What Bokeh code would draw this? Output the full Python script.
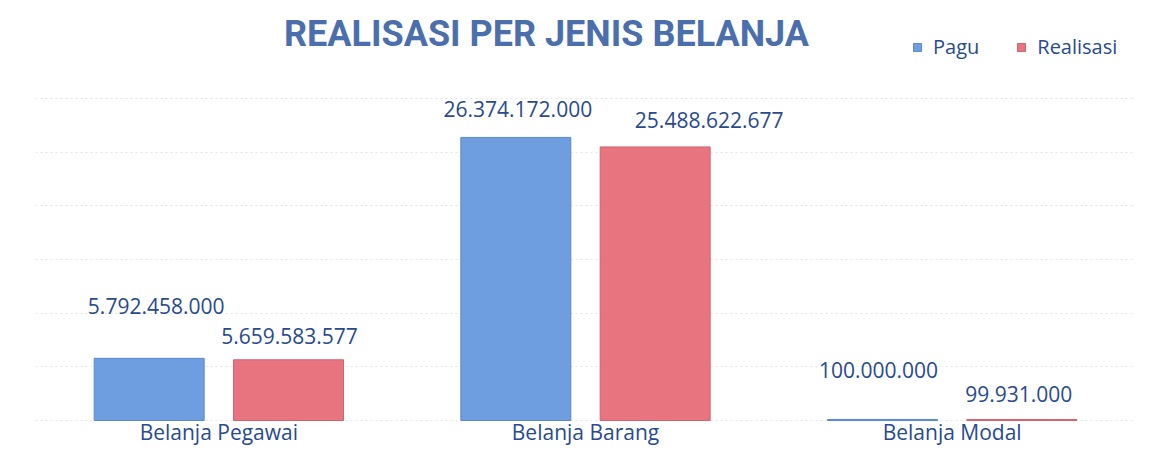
from bokeh.plotting import figure
from bokeh.models import (FactorRange, Range1d, FixedTicker, ColumnDataSource,
                          Label, Legend, LegendItem)
from bokeh.transform import dodge
from bokeh.core.properties import value
from bokeh.embed import file_html
from bokeh.resources import INLINE

# ---- data ----
categories = ["Belanja Pegawai", "Belanja Barang", "Belanja Modal"]
pagu = [5792458000, 26374172000, 100000000]
realisasi = [5659583577, 25488622677, 99931000]
grid_ticks = [0, 5e9, 10e9, 15e9, 20e9, 25e9, 30e9]
title_text = "REALISASI PER JENIS BELANJA"
series_names = ["Pagu", "Realisasi"]

def fmt(v):
    return "{:,}".format(int(v)).replace(",", ".")

# ---- styles ----
BLUE = "#6e9de0"
BLUE_EDGE = "#5c89cc"
RED = "#e8747f"
RED_EDGE = "#cf6470"
TEXT = "#284a8e"
FONT = "Open Sans"
pagu_dx = [7, 2, -4]
pagu_dy = [-52, -28, -49]
real_dx = [1, 54, -3]
real_dy = [-24, -27, -25]
cat_dy = [11, 11, 11]

src = ColumnDataSource(dict(
    cat=categories, pagu=pagu, realisasi=realisasi,
    pagu_lbl=[fmt(v) for v in pagu], real_lbl=[fmt(v) for v in realisasi],
    pdx=pagu_dx, pdy=pagu_dy, rdx=real_dx, rdy=real_dy,
    zero=[0] * len(categories), cdy=cat_dy,
))

p = figure(width=1140, height=449, output_backend="svg", toolbar_location=None,
           x_range=FactorRange(*categories, range_padding=0),
           y_range=Range1d(-2.70e9, 39.13e9),
           min_border_left=35, min_border_right=5, min_border_top=0,
           min_border_bottom=0)
p.outline_line_color = None
p.background_fill_color = "white"
p.border_fill_color = "white"

# grid
p.yaxis.visible = False
p.xaxis.visible = False
p.ygrid.ticker = FixedTicker(ticks=grid_ticks)
p.ygrid.grid_line_color = "#e4e4e4"
p.ygrid.grid_line_dash = "2 3"
p.xgrid.grid_line_color = None

r1 = p.vbar(x=dodge("cat", -0.19, range=p.x_range), top="pagu", width=0.30,
            source=src, fill_color=BLUE, line_color=BLUE_EDGE, line_width=1)
r2 = p.vbar(x=dodge("cat", 0.19, range=p.x_range), top="realisasi", width=0.30,
            source=src, fill_color=RED, line_color=RED_EDGE, line_width=1)

p.text(x=dodge("cat", -0.19, range=p.x_range), y="pagu", text="pagu_lbl",
       x_offset="pdx", y_offset="pdy", source=src,
       text_align="center", text_baseline="alphabetic",
       text_font=value(FONT), text_font_size="21px", text_color=TEXT)
p.text(x=dodge("cat", 0.19, range=p.x_range), y="realisasi", text="real_lbl",
       x_offset="rdx", y_offset="rdy", source=src,
       text_align="center", text_baseline="alphabetic",
       text_font=value(FONT), text_font_size="21px", text_color=TEXT)

# category labels
p.text(x="cat", y="zero", text="cat", y_offset="cdy", source=src,
       text_align="center", text_baseline="alphabetic",
       text_font=value(FONT), text_font_size="21px", text_color=TEXT)

# title
p.add_layout(Label(x=511, y=416, x_units="screen", y_units="screen",
                   text=title_text, text_align="center",
                   text_baseline="alphabetic",
                   text_font="Roboto", text_font_style="bold",
                   text_font_size="36px", text_color="#4a6fac"))

# legend
legend = Legend(items=[LegendItem(label=series_names[0], renderers=[r1]),
                       LegendItem(label=series_names[1], renderers=[r2])],
                orientation="horizontal", location=(877, 389),
                glyph_width=10, glyph_height=10, label_standoff=11,
                spacing=37, padding=0, margin=0,
                border_line_color=None, background_fill_alpha=0,
                label_text_font=FONT, label_text_font_size="20px",
                label_text_color=TEXT)
p.add_layout(legend)

open("out.html", "w").write(file_html(p, INLINE))
